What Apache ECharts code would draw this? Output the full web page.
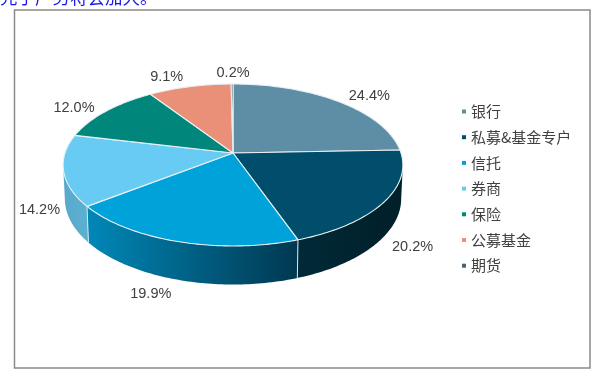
<!DOCTYPE html>
<html>
<head>
<meta charset="utf-8">
<style>html,body{margin:0;padding:0;background:#fff}#c{width:604px;height:372px}</style>
<script src="https://cdn.jsdelivr.net/npm/echarts@6/dist/echarts.min.js"></script>
</head>
<body>
<div id="c"></div>
<script>
const categories = ['银行', '私募&基金专户', '信托', '券商', '保险', '公募基金', '期货'];
const shares = [24.4, 20.2, 19.9, 14.2, 12.0, 9.1, 0.2];
const topColors = ['#5d8ea6', '#004e6b', '#00a2da', '#68cbf4', '#00867b', '#ea8f78', '#44647a'];
const wallColors = [
  ['#5d8ea6', '#5d8ea6'], ['#002a38', '#001f29'], ['#0088b8', '#003850'],
  ['#58aacc', '#5cb0d0'], ['#00867b', '#00867b'], ['#ea8f78', '#ea8f78'], ['#44647a', '#44647a']
];
const labelNudges = [[31, -5], [28, 45], [-27, 52], [-24, 40], [-32, -3], [-23, -10], [1, -11]];

const cx = 233, cy = 153, R = 168, S = 79.2, K = 0.148;
function rim(deg) {
  const a = deg * Math.PI / 180, x = Math.sin(a), y = Math.cos(a), w = 1 + K * y;
  return [cx + R * x / w, cy - S * y / w];
}
function base(deg) {
  const p = rim(deg), dy = p[1] - cy;
  return [cx + (p[0] - cx) * 0.99, p[1] + 33 + Math.max(dy, 0) * 0.06];
}
function arc(from, to, fn) {
  const pts = [], n = Math.max(2, Math.ceil(Math.abs(to - from)));
  for (let i = 0; i <= n; i++) pts.push(fn(from + (to - from) * i / n));
  return pts;
}
const WALL_FROM = 98.5, WALL_TO = 261.5;

function renderSlice(params, api) {
  const i = params.seriesIndex, start = api.value(1) * 3.6, end = (api.value(1) + api.value(0)) * 3.6;
  const children = [];
  const a = Math.max(start, WALL_FROM), b = Math.min(end, WALL_TO);
  if (b > a) {
    const topEdge = arc(a, b, rim), baseEdge = arc(b, a, base);
    children.push({
      type: 'polygon', z2: 1,
      shape: { points: topEdge.concat(baseEdge) },
      style: { fill: { type: 'linear', x: 0, y: 0, x2: 1, y2: 0, colorStops: [
        { offset: 0, color: wallColors[i][0] }, { offset: 1, color: wallColors[i][1] }] } }
    });
    if (start >= WALL_FROM) {
      const p = rim(start), q = base(start);
      children.push({ type: 'line', z2: 2, shape: { x1: p[0], y1: p[1], x2: q[0], y2: q[1] },
        style: { stroke: '#d8e8ee', lineWidth: 1 } });
    }
  }
  children.push({
    type: 'polygon', z2: 3,
    shape: { points: [[cx, cy]].concat(arc(start, end, rim)) },
    style: { fill: topColors[i], stroke: '#e8eff2', lineWidth: 1.1, lineJoin: 'round' }
  });
  const mid = rim((start + end) / 2), nudge = labelNudges[i];
  children.push({
    type: 'text', z2: 5,
    style: { text: api.value(0).toFixed(1) + '%', x: mid[0] + nudge[0], y: mid[1] + nudge[1],
      align: 'center', verticalAlign: 'middle', fill: '#404040',
      font: '14.5px "Liberation Sans", Arial, sans-serif' }
  });
  return { type: 'group', children };
}

let running = 0;
const series = categories.map((name, i) => {
  const s = {
    type: 'custom', name, coordinateSystem: 'none', clip: false, silent: true,
    animation: false, itemStyle: { color: topColors[i] },
    renderItem: renderSlice, data: [[shares[i], running]], z: 2
  };
  running += shares[i];
  return s;
});

const chart = echarts.init(document.getElementById('c'), null, { renderer: 'canvas' });
chart.setOption({
  animation: false,
  backgroundColor: '#fff',
  tooltip: { show: false },
  legend: {
    data: categories, orient: 'vertical', left: 457, top: 99,
    icon: 'rect', itemWidth: 4, itemHeight: 4, itemGap: 10.7, selectedMode: false,
    textStyle: { fontFamily: '"Noto Sans CJK SC", sans-serif', fontSize: 15, color: '#404040' }
  },
  graphic: [
    { type: 'rect', silent: true, shape: { x: 14.5, y: 10, width: 575.5, height: 358 },
      style: { fill: 'none', stroke: '#8a8a8a', lineWidth: 1.5 } },
    { type: 'text', silent: true, left: 0, top: -11,
      style: { text: '先于产劳将会加大。', fill: '#1a1ae6', font: '17.5px "Noto Sans CJK SC", sans-serif' } }
  ],
  series
});
</script>
</body>
</html>
